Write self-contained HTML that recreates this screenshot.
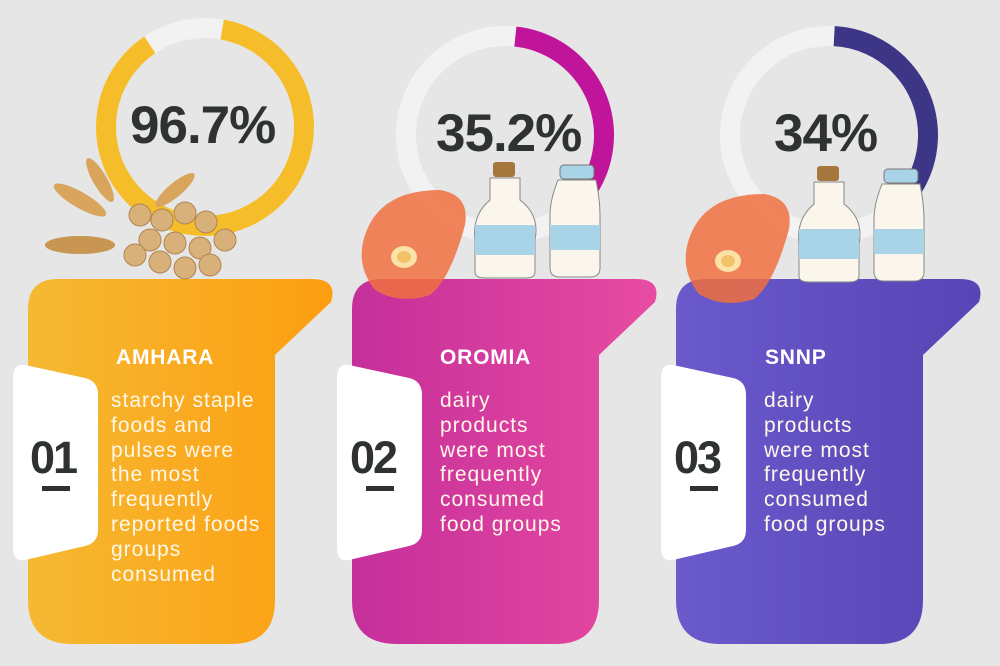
<!DOCTYPE html>
<html><head><meta charset="utf-8"><style>
body{margin:0;width:1000px;height:666px;background:#e6e6e6;overflow:hidden;font-family:"Liberation Sans",sans-serif;position:relative}
.pct{position:absolute;font-weight:bold;font-size:53px;color:#2e3233;letter-spacing:-1px}
.t{position:absolute;color:#fff;font-weight:bold;font-size:21px;letter-spacing:0.8px}
.b{position:absolute;color:#fff7e8;font-size:21px;line-height:24.8px;letter-spacing:1px}
.n{position:absolute;font-weight:bold;font-size:45px;color:#2e3233;letter-spacing:-2px}
.u{position:absolute;width:28px;height:5px;background:#2e3233}
</style></head><body>
<svg width="1000" height="666" style="position:absolute;left:0;top:0">
<defs>
<linearGradient id="g1" x1="0" x2="1"><stop offset="0" stop-color="#f5b933"/><stop offset="1" stop-color="#fd9e10"/></linearGradient>
<linearGradient id="g2" x1="0" x2="1"><stop offset="0" stop-color="#c52f9a"/><stop offset="1" stop-color="#e84ba2"/></linearGradient>
<linearGradient id="g3" x1="0" x2="1"><stop offset="0" stop-color="#6a5acb"/><stop offset="1" stop-color="#5744b5"/></linearGradient>
<g id="card">
<path d="M58,279 H312 Q338,279 331,302 L275,355 V600 Q275,644 231,644 H73 Q28,644 28,600 V309 Q28,279 58,279 Z"/>
</g>
<g id="tab"><path d="M25,365 L85,378 Q98,381 98,395 V530 Q98,543 85,546 L25,560 Q13,562 13,548 V378 Q13,363 25,365 Z" fill="#fff"/></g>
</defs>
<circle cx="205" cy="127" r="99" fill="none" stroke="#f2f2f2" stroke-width="20"/>
<circle cx="205" cy="127" r="99" fill="none" stroke="#f5bd2a" stroke-width="20" stroke-dasharray="546 622" transform="rotate(-80 205 127)"/>
<circle cx="505" cy="135" r="99" fill="none" stroke="#f2f2f2" stroke-width="20"/>
<circle cx="505" cy="135" r="99" fill="none" stroke="#c0149a" stroke-width="20" stroke-dasharray="210 622" transform="rotate(-84 505 135)"/>
<circle cx="829" cy="135" r="99" fill="none" stroke="#f2f2f2" stroke-width="20"/>
<circle cx="829" cy="135" r="99" fill="none" stroke="#3d3585" stroke-width="20" stroke-dasharray="205 622" transform="rotate(-87 829 135)"/>
<use href="#card" fill="url(#g1)"/>
<g transform="translate(324,0)"><use href="#card" fill="url(#g2)"/></g>
<g transform="translate(648,0)"><use href="#card" fill="url(#g3)"/></g>
<use href="#tab"/><g transform="translate(324,0)"><use href="#tab"/></g><g transform="translate(648,0)"><use href="#tab"/></g>
<g fill="#d9a55c">
<ellipse cx="80" cy="200" rx="30" ry="8" transform="rotate(30 80 200)"/>
<ellipse cx="100" cy="180" rx="25" ry="7" transform="rotate(60 100 180)"/>
<ellipse cx="175" cy="190" rx="25" ry="7" transform="rotate(-40 175 190)"/>
<ellipse cx="80" cy="245" rx="35" ry="9" fill="#c99552"/>
</g>
<g fill="#d8b07a" stroke="#b08450" stroke-width="1">
<circle cx="140" cy="215" r="11"/><circle cx="162" cy="220" r="11"/><circle cx="185" cy="213" r="11"/><circle cx="206" cy="222" r="11"/><circle cx="225" cy="240" r="11"/>
<circle cx="150" cy="240" r="11"/><circle cx="175" cy="243" r="11"/><circle cx="200" cy="248" r="11"/><circle cx="135" cy="255" r="11"/><circle cx="160" cy="262" r="11"/><circle cx="185" cy="268" r="11"/><circle cx="210" cy="265" r="11"/>
</g>
<g id="mb">
<path d="M365,235 Q380,190 440,190 Q470,195 465,225 Q450,280 430,295 Q400,305 375,290 Q355,265 365,235 Z" fill="#f0703f" opacity="0.85"/>
<ellipse cx="404" cy="257" rx="13" ry="11" fill="#fbe3a8"/><ellipse cx="404" cy="257" rx="7" ry="6" fill="#f2c26a"/>
<rect x="493" y="162" width="22" height="15" rx="3" fill="#a6773d"/>
<path d="M490,178 H520 V200 Q540,215 535,240 V272 Q535,278 525,278 H485 Q475,278 475,272 V240 Q472,215 490,200 Z" fill="#faf6ec" stroke="#888" stroke-width="1"/>
<rect x="475" y="225" width="60" height="30" fill="#a9d3e6"/>
<rect x="560" y="165" width="34" height="14" rx="4" fill="#a9d3e6" stroke="#777"/>
<path d="M558,180 H596 Q600,200 600,215 V268 Q600,277 590,277 H560 Q550,277 550,268 V215 Q550,200 558,180 Z" fill="#faf6ec" stroke="#888" stroke-width="1"/>
<rect x="550" y="225" width="50" height="25" fill="#a9d3e6"/>
</g>
<g transform="translate(324,4)"><use href="#mb"/></g>
</svg>
<div class="pct" style="left:130px;top:95px">96.7%</div>
<div class="pct" style="left:436px;top:103px">35.2%</div>
<div class="pct" style="left:774px;top:103px">34%</div>
<div class="t" style="left:116px;top:346px">AMHARA</div>
<div class="t" style="left:440px;top:346px">OROMIA</div>
<div class="t" style="left:765px;top:346px">SNNP</div>
<div class="b" style="left:111px;top:389px">starchy staple<br>foods and<br>pulses were<br>the most<br>frequently<br>reported foods<br>groups<br>consumed</div>
<div class="b" style="left:440px;top:389px">dairy<br>products<br>were most<br>frequently<br>consumed<br>food groups</div>
<div class="b" style="left:764px;top:389px">dairy<br>products<br>were most<br>frequently<br>consumed<br>food groups</div>
<div class="n" style="left:30px;top:432px">01</div><div class="u" style="left:42px;top:486px"></div>
<div class="n" style="left:350px;top:432px">02</div><div class="u" style="left:366px;top:486px"></div>
<div class="n" style="left:674px;top:432px">03</div><div class="u" style="left:690px;top:486px"></div>
</body></html>
